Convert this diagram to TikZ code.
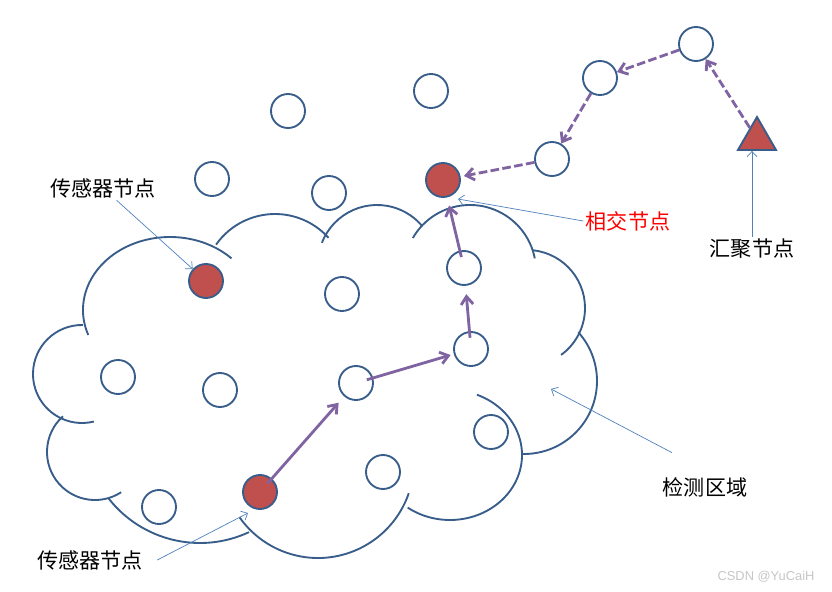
\documentclass[tikz,border=0pt]{standalone}
\usepackage{fontspec}
\usepackage{tikz}
\usetikzlibrary{arrows.meta, positioning, calc, shapes.geometric}
\usepackage{xcolor}
\newfontfamily\cjk{Noto Sans CJK SC}
\setsansfont{Liberation Sans}
\definecolor{lineblue}{RGB}{56,93,138}
\definecolor{nodered}{RGB}{192,80,77}
\definecolor{hoppurple}{RGB}{128,100,162}
\definecolor{calloutblue}{RGB}{79,129,189}

\begin{document}
\begin{tikzpicture}[x=0.03cm, y=-0.03cm,
  sensor/.style={circle, draw=lineblue, line width=1.6pt, fill=white, minimum size=1.02cm, inner sep=0pt},
  hot/.style={sensor, fill=nodered},
  sinknode/.style={regular polygon, regular polygon sides=3, draw=lineblue, line width=1.6pt, fill=nodered, minimum size=1.32cm, inner sep=0pt},
  lbl/.style={font=\cjk\fontsize{18}{20}\selectfont, inner sep=2pt},
  hop/.style={draw=hoppurple, line width=2.4pt, shorten <=-0.2cm, shorten >=0.25cm, -{Straight Barb[length=2.4mm, width=3.6mm]}},
  relay/.style={draw=hoppurple, line width=2.4pt, dash pattern=on 0.26cm off 0.1cm, -{Straight Barb[length=2.4mm, width=3.6mm]}},
  callout/.style={draw=calloutblue, line width=0.6pt, -{Straight Barb[length=1.6mm, width=3mm]}},
  zone/.style={draw=lineblue, line width=1.6pt}]
  \useasboundingbox (0,0) rectangle (832,592);

  % detection area, one arc per lobe
  \draw[zone] (170,310) ++(160:87 and 73) arc[start angle=160, end angle=315, x radius=87, y radius=73];
  \draw[zone] (275,286) ++(215:72) arc[start angle=215, end angle=318, radius=72];
  \draw[zone] (377,264) ++(201:59) arc[start angle=201, end angle=319, radius=59];
  \draw[zone] (470,271) ++(210:66) arc[start angle=210, end angle=349, radius=66];
  \draw[zone] (527,308) ++(276:58) arc[start angle=276, end angle=414, radius=58];
  \draw[zone] (524,381) ++(318:73) arc[start angle=318, end angle=452, radius=73];
  \draw[zone] (450,455) ++(292:72 and 65) arc[start angle=292, end angle=486, x radius=72, y radius=65];
  \draw[zone] (318,462) ++(19:96) arc[start angle=19, end angle=145, radius=96];
  \draw[zone] (200,427) ++(142:116) arc[start angle=142, end angle=65, radius=116];
  \draw[zone] (95,452) ++(228:48) arc[start angle=228, end angle=57, radius=48];
  \draw[zone] (82,374) ++(271:49) arc[start angle=271, end angle=76, radius=49];

  % sensor nodes
  \node[sensor] (n1) at (288,111) {};
  \node[sensor] (n2) at (431,91) {};
  \node[sensor] (n3) at (212,179) {};
  \node[sensor] (n4) at (329,193) {};
  \node[sensor] (n5) at (342,294) {};
  \node[sensor] (n6) at (118,377) {};
  \node[sensor] (n7) at (220,390) {};
  \node[sensor] (n8) at (491,432) {};
  \node[sensor] (n9) at (383,472) {};
  \node[sensor] (n10) at (159,507) {};
  \node[sensor] (p1) at (356,383) {};
  \node[sensor] (p2) at (471,349) {};
  \node[sensor] (p3) at (464,268) {};
  \node[sensor] (r1) at (696,44) {};
  \node[sensor] (r2) at (600,78) {};
  \node[sensor] (r3) at (552,159) {};
  \node[hot] (s1) at (206,281) {};
  \node[hot] (s2) at (260,492) {};
  \node[hot] (hit) at (443,180) {};
  \node[sinknode] (sink) at (757,139) {};

  % labels
  \node[lbl] (lblA) at (103,188) {传感器节点};
  \node[lbl] (lblB) at (90,560) {传感器节点};
  \node[lbl, text=red] (lblC) at (628,221) {相交节点};
  \node[lbl] (lblD) at (752,249) {汇聚节点};
  \node[lbl] (lblE) at (705,487) {检测区域};
  \node[font=\sffamily\fontsize{11}{12}\selectfont, text=gray!45] (mark) at (766,577) {CSDN @YuCaiH};

  % route inside the area
  \draw[hop] (s2) -- (p1);
  \draw[hop, shorten >=0.1cm] (p1) -- (p2);
  \draw[hop] (p2) -- (p3);
  \draw[hop] (p3) -- (hit);

  % route from the sink
  \draw[relay] (sink) -- (r1);
  \draw[relay] (r1) -- (r2);
  \draw[relay] (r2) -- (r3);
  \draw[relay, shorten >=0.1cm] (r3) -- (hit);

  % callouts
  \coordinate (s2tip) at (248,513);
  \coordinate (hittip) at (458,199);
  \coordinate (zonetip) at (551,389);
  \draw[callout] (lblA) -- (s1);
  \draw[callout] ($(lblB.east)+(12,0)$) -- (s2tip);
  \draw[callout] (lblC.west) -- (hittip);
  \draw[callout] (lblD.north) -- (lblD.north |- sink.south);
  \draw[callout] ($(lblE.north)+(-33,-22)$) -- (zonetip);
\end{tikzpicture}
\end{document}
